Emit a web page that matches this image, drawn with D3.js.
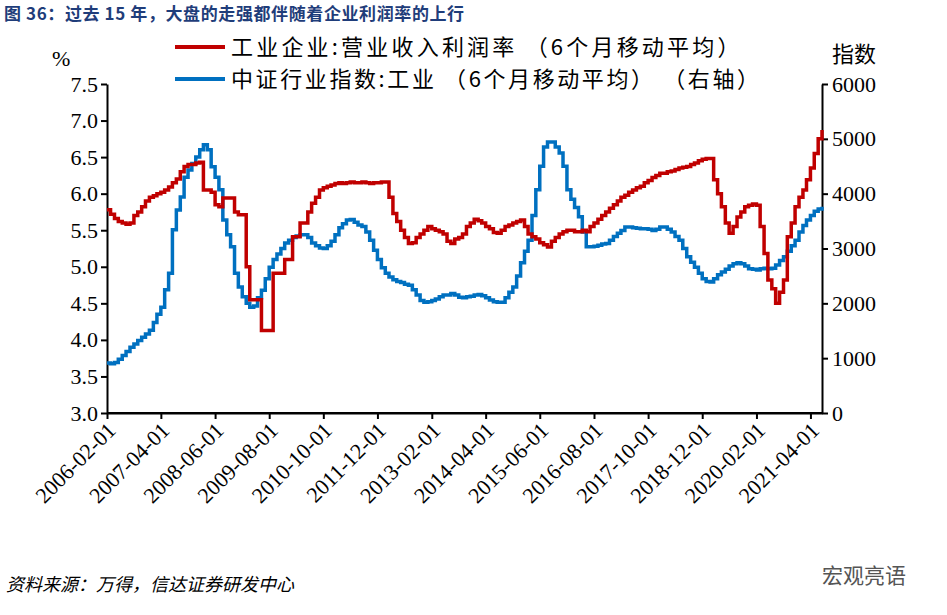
<!DOCTYPE html><html><head><meta charset="utf-8"><script src="https://d3js.org/d3.v7.min.js"></script>
<style>body{margin:0;background:#fff}</style></head><body><svg id="c" width="947" height="615"></svg><script>
const startMonth = "2006-02";
const tickLabels = ["2006-02-01","2007-04-01","2008-06-01","2009-08-01","2010-10-01","2011-12-01","2013-02-01","2014-04-01","2015-06-01","2016-08-01","2017-10-01","2018-12-01","2020-02-01","2021-04-01"];
const leftTicks = [3.0,3.5,4.0,4.5,5.0,5.5,6.0,6.5,7.0,7.5];
const rightTicks = [0,1000,2000,3000,4000,5000,6000];
const profitMargin = [5.78,5.72,5.66,5.62,5.60,5.58,5.60,5.70,5.75,5.82,5.90,5.95,5.97,6.00,6.02,6.05,6.09,6.15,6.20,6.30,6.37,6.40,6.40,6.42,6.43,6.05,6.05,6.02,5.85,5.82,5.94,5.94,5.94,5.75,5.71,5.71,5.0,4.55,4.55,4.55,4.13,4.13,4.13,4.91,4.91,4.91,5.10,5.10,5.41,5.41,5.60,5.60,5.75,5.87,5.95,6.05,6.08,6.10,6.12,6.14,6.15,6.14,6.15,6.16,6.15,6.15,6.16,6.15,6.14,6.15,6.15,6.16,6.16,5.95,5.73,5.62,5.50,5.40,5.32,5.33,5.40,5.45,5.50,5.55,5.52,5.50,5.48,5.45,5.35,5.32,5.38,5.40,5.45,5.55,5.60,5.65,5.63,5.60,5.55,5.52,5.47,5.46,5.50,5.55,5.57,5.60,5.62,5.64,5.55,5.45,5.41,5.38,5.33,5.30,5.27,5.35,5.40,5.45,5.48,5.50,5.50,5.48,5.48,5.50,5.48,5.55,5.60,5.65,5.70,5.75,5.80,5.85,5.90,5.95,5.98,6.02,6.05,6.08,6.10,6.15,6.18,6.22,6.25,6.28,6.28,6.30,6.31,6.33,6.35,6.36,6.37,6.40,6.42,6.45,6.47,6.48,6.48,6.19,6.00,5.82,5.60,5.46,5.55,5.68,5.75,5.82,5.84,5.86,5.84,5.55,5.18,4.82,4.70,4.50,4.65,4.82,5.41,5.60,5.82,5.95,6.05,6.19,6.35,6.55,6.75,6.87];
const industryIndex = [912,900,920,980,1050,1120,1200,1260,1320,1380,1440,1510,1650,1800,1930,2250,2550,3340,3700,3940,4300,4430,4550,4670,4800,4890,4800,4490,4300,4070,3520,3250,3030,2550,2300,2120,2000,1930,1950,2100,2240,2450,2660,2800,2900,3000,3100,3150,3200,3230,3250,3250,3200,3100,3050,3010,3000,3050,3130,3250,3380,3450,3520,3530,3480,3430,3400,3300,3150,2970,2800,2650,2550,2480,2430,2400,2380,2350,2330,2250,2150,2050,2020,2030,2050,2080,2120,2150,2150,2180,2150,2110,2100,2120,2130,2150,2160,2140,2100,2060,2030,2020,2020,2100,2200,2300,2500,2740,2950,3150,3600,4070,4500,4850,4940,4940,4850,4740,4500,4070,3900,3750,3580,3300,3030,3030,3040,3060,3080,3090,3150,3220,3280,3330,3390,3390,3380,3370,3360,3360,3350,3330,3350,3390,3390,3350,3300,3220,3150,3000,2850,2750,2660,2550,2450,2400,2390,2450,2520,2570,2620,2680,2720,2740,2720,2680,2630,2620,2610,2630,2640,2630,2640,2700,2780,2850,2950,3050,3150,3300,3420,3520,3600,3680,3720,3760];

const svg = d3.select("#c");
const L=107,R=822,T=84,B=413;
const parse = d3.timeParse("%Y-%m");
const t0 = parse(startMonth);
const dates = profitMargin.map((_,i)=>d3.timeMonth.offset(t0,i));
const x = d3.scaleTime().domain([t0, d3.timeMonth.offset(t0,185.6)]).range([L,R]);
const yL = d3.scaleLinear().domain([3,7.5]).range([B,T]);
const yR = d3.scaleLinear().domain([0,6000]).range([B,T]);
const serif = "'Liberation Serif','DejaVu Serif',serif";
const cjk = "'Noto Sans CJK SC',sans-serif";

svg.append("text").attr("x",4).attr("y",20).attr("fill","#1f3d7a").attr("font-weight","bold")
  .attr("font-size",17).attr("letter-spacing",0.6).attr("font-family",cjk).text("图 36：过去 15 年，大盘的走强都伴随着企业利润率的上行");

const gl = svg.append("g").attr("transform",`translate(${L},0)`)
  .call(d3.axisLeft(yL).tickValues(leftTicks).tickFormat(d3.format(".1f")).tickSize(6).tickSizeOuter(0));
const gr = svg.append("g").attr("transform",`translate(${R},0)`)
  .call(d3.axisRight(yR).tickValues(rightTicks).tickFormat(d3.format("d")).tickSize(6).tickSizeOuter(0));
const gx = svg.append("g").attr("transform",`translate(0,${B})`)
  .call(d3.axisBottom(x).tickValues(tickLabels.map(d3.timeParse("%Y-%m-%d"))).tickFormat(d3.timeFormat("%Y-%m-%d")).tickSize(6).tickSizeOuter(0));
gx.selectAll("text").attr("transform","rotate(-45)").attr("text-anchor","end").attr("dx","-0.3em").attr("dy","0.5em");
[gl,gr,gx].forEach(g=>{g.selectAll("path,line").attr("stroke","#000").attr("stroke-width",2);
  g.selectAll("text").attr("font-family",serif).attr("font-size",22).attr("fill","#000");});
gl.selectAll("text").attr("x",-9);
gr.selectAll("text").attr("x",10);
svg.append("line").attr("x1",L).attr("x2",R).attr("y1",B).attr("y2",B).attr("stroke","#000").attr("stroke-width",2);

const lineL = d3.line().x((d,i)=>x(dates[i])).y(d=>yL(d)).curve(d3.curveStepAfter);
const lineR = d3.line().x((d,i)=>x(dates[i])).y(d=>yR(d)).curve(d3.curveStepAfter);
svg.append("path").datum(industryIndex).attr("d",lineR).attr("fill","none").attr("stroke","#0070c0").attr("stroke-width",3.5);
svg.append("path").datum(profitMargin).attr("d",lineL).attr("fill","none").attr("stroke","#c00000").attr("stroke-width",3.5);

svg.append("text").attr("x",52).attr("y",66).attr("font-size",22).attr("font-family",serif).text("%");
svg.append("text").attr("x",832).attr("y",62).attr("font-size",22).attr("font-family",cjk).text("指数");

const leg=[["工业企业:营业收入利润率 （6个月移动平均）","#c00000",47,3.2],["中证行业指数:工业 （6个月移动平均） （右轴）","#0070c0",79,2.6]];
leg.forEach(([t,c,y,ls])=>{
  svg.append("line").attr("x1",175).attr("x2",225).attr("y1",y).attr("y2",y).attr("stroke",c).attr("stroke-width",4);
  svg.append("text").attr("x",231).attr("y",y+8).attr("font-size",22).attr("letter-spacing",ls).attr("font-family",cjk).text(t);
});
svg.append("text").attr("x",6).attr("y",591).attr("font-size",18).attr("font-style","italic").attr("font-family",cjk).text("资料来源：万得，信达证券研发中心");
svg.append("text").attr("x",822).attr("y",583).attr("font-size",21).attr("fill","#555").attr("font-family",cjk).text("宏观亮语");
</script></body></html>
